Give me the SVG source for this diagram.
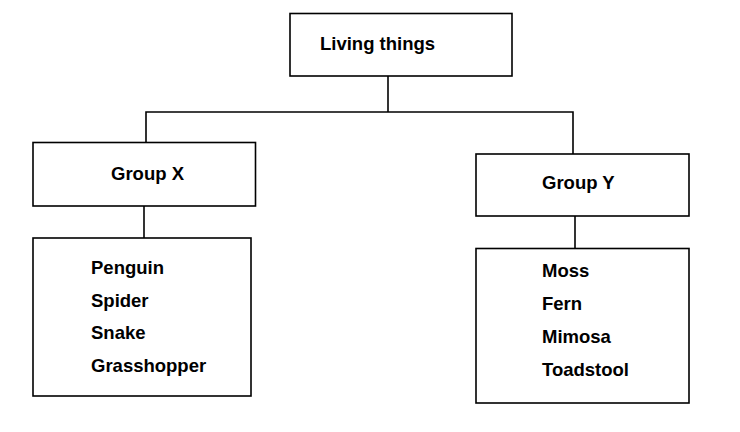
<svg xmlns="http://www.w3.org/2000/svg" width="740" height="432" viewBox="0 0 740 432">
<style>
.box{fill:#fff;stroke:#000;stroke-width:1.6}
.ln{fill:none;stroke:#000;stroke-width:1.6}
text{font-family:"Liberation Sans",Arial,sans-serif;font-weight:bold;font-size:18.5px;fill:#000}
</style>
<rect width="740" height="432" fill="#fff"/>
<g id="connectors">
<line class="ln" x1="388" y1="76" x2="388" y2="112"/>
<polyline class="ln" points="146,142.5 146,112 573,112 573,154"/>
<line class="ln" x1="144" y1="206" x2="144" y2="238"/>
<line class="ln" x1="575" y1="216" x2="575" y2="248.5"/>
</g>
<g id="living-things">
<rect class="box" x="290" y="13.5" width="222" height="62.5"/>
<text x="320" y="50">Living things</text>
</g>
<g id="group-x">
<rect class="box" x="33" y="142.5" width="222.5" height="63.5"/>
<text x="111" y="180">Group X</text>
</g>
<g id="group-x-list">
<rect class="box" x="33" y="238" width="218" height="158"/>
<text x="91" y="274">Penguin</text>
<text x="91" y="306.5">Spider</text>
<text x="91" y="339">Snake</text>
<text x="91" y="371.5">Grasshopper</text>
</g>
<g id="group-y">
<rect class="box" x="476" y="154" width="213" height="62"/>
<text x="542" y="189">Group Y</text>
</g>
<g id="group-y-list">
<rect class="box" x="476" y="248.5" width="213" height="154.5"/>
<text x="542" y="276.5">Moss</text>
<text x="542" y="309.5">Fern</text>
<text x="542" y="342.5">Mimosa</text>
<text x="542" y="375.5">Toadstool</text>
</g>
</svg>
